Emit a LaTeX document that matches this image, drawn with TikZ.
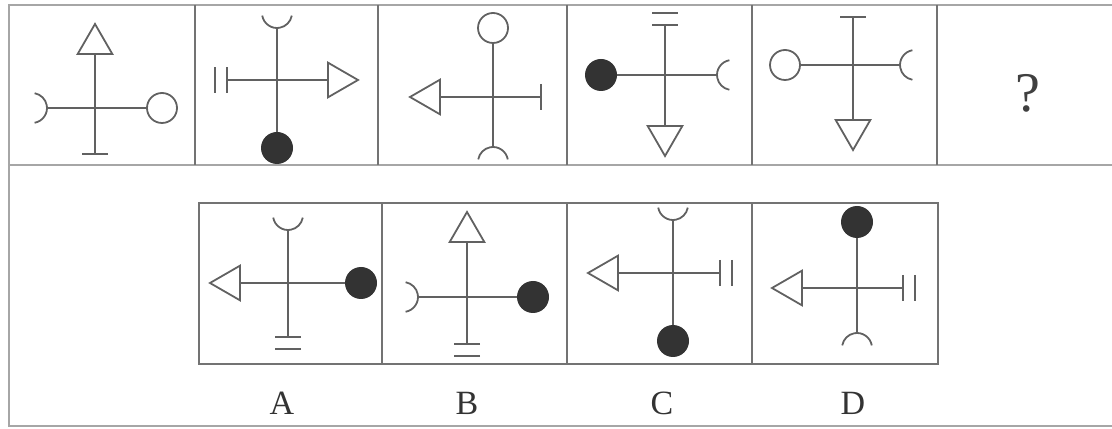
\documentclass[tikz,border=0pt]{standalone}
\usepackage{fontspec}
\setmainfont{Liberation Serif}
\usetikzlibrary{shapes.geometric,calc}

\begin{document}
\begin{tikzpicture}[
  x=0.5pt, y=0.5pt,
  arm/.style ={draw=black!62, line width=0.9pt},
  stub/.style={draw=black!62, line width=1.3pt},                 % end bars
  ring/.style={circle, draw=black!62, line width=0.9pt, minimum size=15pt, inner sep=0pt, outer sep=0pt},
  dot/.style ={circle, fill=black!80, minimum size=16pt, inner sep=0pt, outer sep=0pt},
  tri/.style ={regular polygon, regular polygon sides=3, draw=black!62, line width=0.9pt,
               minimum size=20pt, inner sep=0pt, outer sep=0pt},
  frame/.style={draw=black!35, line width=1pt},
  cell/.style ={draw=black!55, line width=0.8pt},
  tag/.style  ={font=\fontsize{17}{20}\selectfont, text=black!80},
]
\useasboundingbox (0,0) rectangle (1112,428);

% end symbols: #1 name, #2 outward angle, #3 end point of the arm
\def\symring#1#2#3{\pgfmathtruncatemacro\bk{mod(#2+180,360)}\node[ring, anchor=\bk] (#1) at #3 {};}
\def\symdot#1#2#3{\pgfmathtruncatemacro\bk{mod(#2+180,360)}\node[dot, anchor=\bk] (#1) at #3 {};}
\def\symtri#1#2#3{\pgfmathtruncatemacro\bk{#2-90}\node[tri, shape border rotate=\bk, anchor=side 2] (#1) at #3 {};}
\def\symcup#1#2#3{\coordinate (#1) at #3;
  \draw[arm] (#1) ++(#2:7.5pt) ++({#2+100}:7.5pt) arc[start angle={#2+100}, delta angle=160, radius=7.5pt];}
\def\symbar#1#2#3{\coordinate (#1) at #3; \draw[stub] (#1) ++({#2+90}:6.5pt) -- ++({#2-90}:13pt);}
\def\symdbar#1#2#3{\symbar{#1}{#2}{#3} \draw[stub] (#1) ++(#2:6pt) ++({#2+90}:6.5pt) -- ++({#2-90}:13pt);}

% ============================== frames ==============================
\draw[frame] (1112,423) -- (9,423) -- (9,2) -- (1112,2);
\draw[frame] (9,263) -- (1112,263);
\draw[cell, line width=1.4pt] (195,423) -- (195,263);
\foreach \x in {378,567,752,937} \draw[cell] (\x,423) -- (\x,263);
\draw[cell] (199,64) rectangle (938,225);
\foreach \x in {382,567,752} \draw[cell] (\x,225) -- (\x,64);

% ============================== top row ==============================
\coordinate (t1) at (95,320);
\foreach \s/\a/\l [count=\k] in {tri/90/54, ring/0/52, bar/270/46, cup/180/48}{
  \csname sym\s\endcsname{t1s\k}{\a}{($(t1)+(\a:\l)$)} \draw[arm] (t1) -- (t1s\k); }
\coordinate (t2) at (277,348);
\foreach \s/\a/\l [count=\k] in {cup/90/52, tri/0/51, dot/270/52, dbar/180/50}{
  \csname sym\s\endcsname{t2s\k}{\a}{($(t2)+(\a:\l)$)} \draw[arm] (t2) -- (t2s\k); }
\coordinate (t3) at (493,331);
\foreach \s/\a/\l [count=\k] in {ring/90/54, bar/0/48, cup/270/50, tri/180/53}{
  \csname sym\s\endcsname{t3s\k}{\a}{($(t3)+(\a:\l)$)} \draw[arm] (t3) -- (t3s\k); }
\coordinate (t4) at (665,353);
\foreach \s/\a/\l [count=\k] in {dbar/90/50, cup/0/52, tri/270/51, dot/180/48}{
  \csname sym\s\endcsname{t4s\k}{\a}{($(t4)+(\a:\l)$)} \draw[arm] (t4) -- (t4s\k); }
\coordinate (t5) at (853,363);
\foreach \s/\a/\l [count=\k] in {bar/90/48, cup/0/47, tri/270/55, ring/180/53}{
  \csname sym\s\endcsname{t5s\k}{\a}{($(t5)+(\a:\l)$)} \draw[arm] (t5) -- (t5s\k); }
\node[font=\fontsize{28}{30}\selectfont, text=black!75] (ask) at (1028,335) {?};

% ============================== options ==============================
\coordinate (oA) at (288,145);
\foreach \s/\a/\l [count=\k] in {cup/90/53, dot/0/57, dbar/270/54, tri/180/48}{
  \csname sym\s\endcsname{oAs\k}{\a}{($(oA)+(\a:\l)$)} \draw[arm] (oA) -- (oAs\k); }
\coordinate (oB) at (467,131);
\foreach \s/\a/\l [count=\k] in {tri/90/55, dot/0/50, dbar/270/47, cup/180/49}{
  \csname sym\s\endcsname{oBs\k}{\a}{($(oB)+(\a:\l)$)} \draw[arm] (oB) -- (oBs\k); }
\coordinate (oC) at (673,155);
\foreach \s/\a/\l [count=\k] in {cup/90/53, dbar/0/47, dot/270/52, tri/180/55}{
  \csname sym\s\endcsname{oCs\k}{\a}{($(oC)+(\a:\l)$)} \draw[arm] (oC) -- (oCs\k); }
\coordinate (oD) at (857,140);
\foreach \s/\a/\l [count=\k] in {dot/90/50, dbar/0/46, cup/270/45, tri/180/55}{
  \csname sym\s\endcsname{oDs\k}{\a}{($(oD)+(\a:\l)$)} \draw[arm] (oD) -- (oDs\k); }

\node[tag] (labA) at (282,25) {A};
\node[tag] (labB) at (467,25) {B};
\node[tag] (labC) at (662,25) {C};
\node[tag] (labD) at (853,25) {D};
\end{tikzpicture}
\end{document}
